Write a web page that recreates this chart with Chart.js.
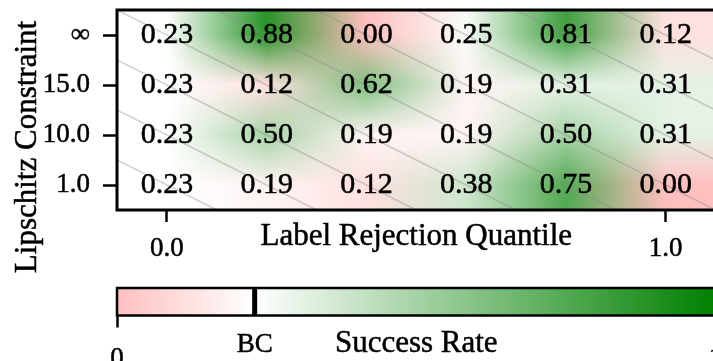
<!DOCTYPE html>
<html>
<head>
<meta charset="utf-8">
<script src="https://cdn.jsdelivr.net/npm/chart.js@4.4.1/dist/chart.umd.min.js"></script>
<style>
    html, body { margin: 0; padding: 0; background: #fff; }
    body { width: 713px; height: 361px; overflow: hidden; position: relative; }
    canvas { position: absolute; left: 0; }
    #heat { top: 0; }
    #cbar { top: 265px; }
</style>
</head>
<body>
<canvas id="heat" width="730" height="300"></canvas>
<canvas id="cbar" width="730" height="96"></canvas>
<script>
// Data
const quantiles = [0.0, 0.2, 0.4, 0.6, 0.8, 1.0];
const xTicks = [0.0, 1.0];
const lipschitz = ['∞', '15.0', '10.0', '1.0'];
const rowInf = [0.23, 0.88, 0.00, 0.25, 0.81, 0.12];
const row15 = [0.23, 0.12, 0.62, 0.19, 0.31, 0.31];
const row10 = [0.23, 0.50, 0.19, 0.19, 0.50, 0.31];
const row1 = [0.23, 0.19, 0.12, 0.38, 0.75, 0.00];
const successRate = [rowInf, row15, row10, row1];
const baselineBC = 0.23;
const cbarTicks = [0, 1];

const FONT = "'Liberation Serif', 'Times New Roman', serif";
const STROKE = 0.5; // a bit heavier text, closer to the original rendering
Chart.defaults.font.family = FONT;
Chart.defaults.color = '#000';

const pink = [255, 191, 191];
const white = [255, 255, 255];
const green = [0, 128, 0];

function mix(a, b, t) {
    return [0, 1, 2].map(i => a[i] + (b[i] - a[i]) * t);
}
function colorFor(v) {
    if (v <= baselineBC) return mix(pink, white, v / baselineBC);
    return mix(white, green, (v - baselineBC) / (1 - baselineBC));
}
const rgb = c => `rgb(${c.map(Math.round).join(',')})`;

function text(ctx, s, x, y) {
    ctx.fillText(s, x, y);
    ctx.strokeText(s, x, y);
}

// scatter points at the cell centres
const cells = [];
successRate.forEach((row, r) => row.forEach((v, c) => cells.push({x: quantiles[c], y: r, v: v})));

const step = quantiles[1] - quantiles[0];

// no extra padding for labels, the layout is fixed
function noPad(s) {
    s.paddingTop = 0;
    s.paddingBottom = 0;
    s.paddingLeft = 0;
    s.paddingRight = 0;
}

// bilinear (colour) interpolation of the grid, like imshow(interpolation='bilinear')
const heatmapPlugin = {
    id: 'heatmap',
    beforeDatasetsDraw(chart) {
        const {ctx, chartArea: a, scales: {x, y}} = chart;
        const w = Math.ceil(a.right - a.left), h = Math.ceil(a.bottom - a.top);
        const off = document.createElement('canvas');
        off.width = w; off.height = h;
        const octx = off.getContext('2d');
        const img = octx.createImageData(w, h);
        const nr = successRate.length, nc = quantiles.length;
        const cols = successRate.map(row => row.map(colorFor));
        for (let j = 0; j < h; j++) {
            let fy = y.getValueForPixel(a.top + j + 0.5);
            fy = Math.min(Math.max(fy, 0), nr - 1);
            const r0 = Math.floor(fy), r1 = Math.min(r0 + 1, nr - 1), ty = fy - r0;
            for (let i = 0; i < w; i++) {
                let fx = (x.getValueForPixel(a.left + i + 0.5) - quantiles[0]) / step;
                fx = Math.min(Math.max(fx, 0), nc - 1);
                const c0 = Math.floor(fx), c1 = Math.min(c0 + 1, nc - 1), tx = fx - c0;
                const top = mix(cols[r0][c0], cols[r0][c1], tx);
                const bot = mix(cols[r1][c0], cols[r1][c1], tx);
                const px = mix(top, bot, ty);
                const k = (j * w + i) * 4;
                img.data[k] = px[0];
                img.data[k + 1] = px[1];
                img.data[k + 2] = px[2];
                img.data[k + 3] = 255;
            }
        }
        octx.putImageData(img, 0, 0);
        ctx.drawImage(off, a.left, a.top);

        // faint diagonal hatch in each cell
        ctx.save();
        ctx.beginPath();
        ctx.rect(a.left, a.top, a.right - a.left, a.bottom - a.top);
        ctx.clip();
        ctx.strokeStyle = 'rgba(140,140,140,0.4)';
        ctx.lineWidth = 1.5;
        successRate.forEach((row, r) => row.forEach((v, c) => {
            ctx.beginPath();
            ctx.moveTo(x.getPixelForValue(quantiles[c] - step / 2), y.getPixelForValue(r - 0.5));
            ctx.lineTo(x.getPixelForValue(quantiles[c] + step / 2), y.getPixelForValue(r + 0.5));
            ctx.stroke();
        }));
        ctx.restore();
    },
    afterDatasetsDraw(chart) {
        const {ctx, scales: {x, y}} = chart;
        ctx.save();
        ctx.font = '30px ' + FONT;
        ctx.fillStyle = '#000';
        ctx.strokeStyle = '#000';
        ctx.lineWidth = STROKE;
        ctx.textAlign = 'center';
        ctx.textBaseline = 'middle';
        cells.forEach(p => {
            text(ctx, p.v.toFixed(2), x.getPixelForValue(p.x), y.getPixelForValue(p.y));
        });
        ctx.restore();
    },
    afterDraw(chart) {
        const {ctx, chartArea: a} = chart;
        ctx.save();
        ctx.strokeStyle = '#000';
        ctx.lineWidth = 3;
        ctx.strokeRect(a.left, a.top, a.right - a.left, a.bottom - a.top);
        ctx.lineWidth = STROKE;
        ctx.font = '31px ' + FONT;
        ctx.fillStyle = '#000';
        ctx.textAlign = 'center';
        ctx.textBaseline = 'alphabetic';
        text(ctx, 'Label Rejection Quantile', (a.left + a.right) / 2, 245);
        ctx.translate(36, 147);
        ctx.rotate(-Math.PI / 2);
        text(ctx, 'Lipschitz Constraint', 0, 0);
        ctx.restore();
    }
};

const heatChart = new Chart(document.getElementById('heat'), {
    type: 'scatter',
    data: {
        datasets: [{
            data: cells,
            pointRadius: 0,
            pointHoverRadius: 0
        }]
    },
    options: {
        responsive: false,
        devicePixelRatio: 1,
        animation: false,
        events: [],
        layout: { padding: { top: 10, right: 14.5, left: 0, bottom: 0 } },
        plugins: { legend: { display: false }, tooltip: { enabled: false } },
        scales: {
            x: {
                type: 'linear',
                min: quantiles[0] - step / 2,
                max: quantiles[quantiles.length - 1] + step / 2,
                afterBuildTicks: s => { s.ticks = xTicks.map(v => ({value: v})); },
                afterFit: s => { s.height = 90; noPad(s); },
                ticks: {
                    font: { size: 27 },
                    padding: 11,
                    maxRotation: 0,
                    autoSkip: false,
                    textStrokeColor: '#000',
                    textStrokeWidth: STROKE,
                    callback: v => Number(v).toFixed(1)
                },
                grid: { drawOnChartArea: false, tickLength: 12, tickWidth: 2.5, tickColor: '#000' },
                border: { display: false }
            },
            y: {
                type: 'linear',
                reverse: true,
                min: -0.5,
                max: lipschitz.length - 0.5,
                afterBuildTicks: s => { s.ticks = lipschitz.map((l, i) => ({value: i})); },
                afterFit: s => { s.width = 117; noPad(s); },
                ticks: {
                    font: { size: 27 },
                    padding: 13,
                    autoSkip: false,
                    textStrokeColor: '#000',
                    textStrokeWidth: STROKE,
                    callback: v => lipschitz[v]
                },
                grid: { drawOnChartArea: false, tickLength: 14, tickWidth: 2.5, tickColor: '#000' },
                border: { display: false }
            }
        }
    },
    plugins: [heatmapPlugin]
});

// Colorbar
const cbarPlugin = {
    id: 'cbarFrame',
    afterDraw(chart) {
        const {ctx, chartArea: a, scales: {x}} = chart;
        ctx.save();
        ctx.strokeStyle = '#000';
        ctx.lineWidth = 2.5;
        ctx.strokeRect(a.left, a.top, a.right - a.left, a.bottom - a.top);
        const bx = x.getPixelForValue(baselineBC);
        ctx.lineWidth = 5;
        ctx.beginPath();
        ctx.moveTo(bx, a.top);
        ctx.lineTo(bx, a.bottom);
        ctx.stroke();
        ctx.lineWidth = STROKE;
        ctx.fillStyle = '#000';
        ctx.textAlign = 'center';
        ctx.textBaseline = 'alphabetic';
        ctx.font = '27px ' + FONT;
        text(ctx, 'BC', bx, 87);
        ctx.font = '31px ' + FONT;
        text(ctx, 'Success Rate', (a.left + a.right) / 2, 87);
        ctx.restore();
    }
};

const cbarChart = new Chart(document.getElementById('cbar'), {
    type: 'bar',
    data: {
        labels: ['Success Rate'],
        datasets: [{
            data: [[cbarTicks[0], cbarTicks[1]]],
            backgroundColor: c => {
                const ch = c.chart;
                const xs = ch.scales.x;
                if (!ch.chartArea || !xs) return rgb(white);
                const g = ch.ctx.createLinearGradient(xs.getPixelForValue(0), 0, xs.getPixelForValue(1), 0);
                g.addColorStop(0, rgb(pink));
                g.addColorStop(baselineBC, rgb(white));
                g.addColorStop(1, rgb(green));
                return g;
            },
            borderWidth: 0,
            barPercentage: 1,
            categoryPercentage: 1
        }]
    },
    options: {
        indexAxis: 'y',
        responsive: false,
        devicePixelRatio: 1,
        animation: false,
        events: [],
        layout: { padding: { top: 23, right: 14.5, left: 117, bottom: 0 } },
        plugins: { legend: { display: false }, tooltip: { enabled: false } },
        scales: {
            x: {
                type: 'linear',
                min: cbarTicks[0],
                max: cbarTicks[1],
                afterBuildTicks: s => { s.ticks = cbarTicks.map(v => ({value: v})); },
                afterFit: s => { s.height = 45.5; noPad(s); },
                ticks: {
                    font: { size: 27 },
                    padding: 15,
                    maxRotation: 0,
                    autoSkip: false,
                    textStrokeColor: '#000',
                    textStrokeWidth: STROKE,
                    callback: v => String(v)
                },
                grid: { drawOnChartArea: false, tickLength: 12, tickWidth: 2.5, tickColor: '#000' },
                border: { display: false }
            },
            y: { display: false }
        }
    },
    plugins: [cbarPlugin]
});
</script>
</body>
</html>
